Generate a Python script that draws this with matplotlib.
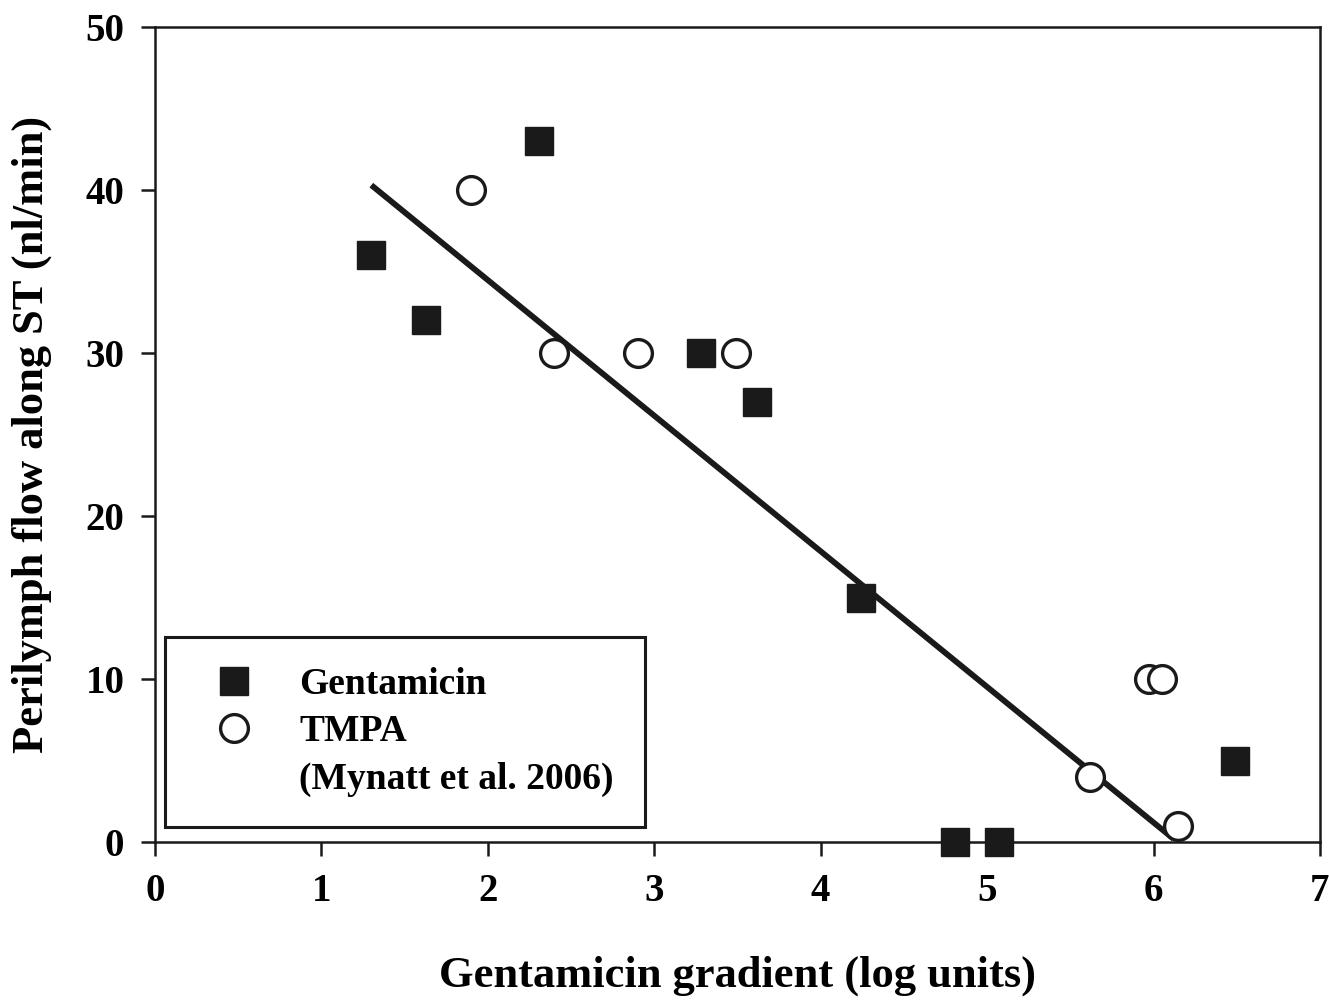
import matplotlib
matplotlib.use('Agg')
import matplotlib.pyplot as plt
from matplotlib.lines import Line2D

# 数据
gen_x = [1.30, 1.63, 2.31, 3.28, 3.62, 4.24, 4.81, 5.07, 6.49]
gen_y = [36, 32, 43, 30, 27, 15, 0, 0, 5]
tmpa_x = [1.90, 2.40, 2.90, 3.49, 5.62, 5.97, 6.05, 6.15]
tmpa_y = [40, 30, 30, 30, 4, 10, 10, 1]
fit_x = [1.30, 6.12]
fit_y = [40.3, 0.2]

plt.rcParams['font.family'] = ['Liberation Serif', 'DejaVu Serif']
plt.rcParams['font.weight'] = 'bold'

fig = plt.figure(figsize=(13.29, 10.01), dpi=100)
ax = fig.add_axes([0.1166, 0.1588, 0.8766, 0.8142])

ax.plot(fit_x, fit_y, color='#1a1a1a', lw=4.2, zorder=2, solid_capstyle='butt')
ax.plot(gen_x, gen_y, 's', ms=20, color='#1a1a1a', mec='#1a1a1a', mew=1,
        zorder=3, clip_on=False)
ax.plot(tmpa_x, tmpa_y, 'o', ms=20, mfc='white', mec='#1a1a1a', mew=2.4,
        zorder=3, clip_on=False)

ax.set_xlim(0, 7)
ax.set_ylim(0, 50)
ax.set_xticks(range(0, 8))
ax.set_yticks(range(0, 51, 10))
for s in ax.spines.values():
    s.set_linewidth(1.8)
    s.set_color('#1a1a1a')
ax.tick_params(direction='out', length=10, width=1.8, labelsize=28, pad=12,
               top=False, right=False, color='#1a1a1a')
for lab in ax.get_xticklabels() + ax.get_yticklabels():
    lab.set_fontweight('bold')

ax.set_xlabel('Gentamicin gradient (log units)', fontsize=32, fontweight='bold', labelpad=33)
ax.set_ylabel('Perilymph flow along ST (nl/min)', fontsize=32, fontweight='bold', labelpad=24)

# 图例：第三行为引用文字，无标记
h1 = Line2D([], [], ls='none', marker='s', ms=20, color='#1a1a1a')
h2 = Line2D([], [], ls='none', marker='o', ms=20, mfc='white', mec='#1a1a1a', mew=2.4)
h3 = Line2D([], [], ls='none', marker='')
leg = ax.legend([h1, h2, h3], ['Gentamicin', 'TMPA', '(Mynatt et al. 2006)'],
                loc='lower left', bbox_to_anchor=(0.009, 0.018), fontsize=27,
                frameon=True, fancybox=False, edgecolor='#1a1a1a', framealpha=1,
                borderpad=0.82, handletextpad=0.75, labelspacing=0.32,
                handlelength=2.0, borderaxespad=0)
leg.get_frame().set_linewidth(2.2)
for t in leg.get_texts():
    t.set_fontweight('bold')

plt.savefig('out.png', dpi=100)
plt.close()
